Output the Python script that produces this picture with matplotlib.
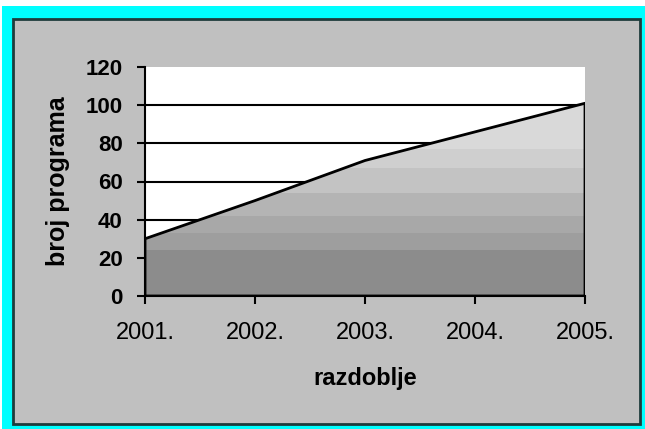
import numpy as np
import matplotlib
matplotlib.use("Agg")
import matplotlib.pyplot as plt
from matplotlib.patches import Rectangle
from matplotlib.colors import ListedColormap, BoundaryNorm

# data
years = ["2001.", "2002.", "2003.", "2004.", "2005."]
programs = [30, 50, 71, 86, 101]
yticks = [0, 20, 40, 60, 80, 100, 120]

# banded gray fill (light at top, dark at bottom)
band_edges = [0, 24, 33, 42, 54, 67, 77, 120]
band_grays = ["#8c8c8c", "#9e9e9e", "#a8a8a8", "#b4b4b4", "#c3c3c3", "#cfcfcf", "#d9d9d9"]

plt.rcParams["font.family"] = ["Liberation Sans", "DejaVu Sans"]

W, H = 645, 429
fig = plt.figure(figsize=(W / 100, H / 100), dpi=100, facecolor="white")

# outer cyan frame and gray panel with dark border (behind the axes)
fig.patches.append(Rectangle((2 / W, 0), 1 - 2 / W, (H - 6) / H, transform=fig.transFigure,
                             facecolor="#00ffff", edgecolor="none", zorder=-10))
fig.patches.append(Rectangle((13 / W, 5 / H), 627 / W, 405 / H, transform=fig.transFigure,
                             facecolor="#c0c0c0", edgecolor="#1e3c3c", linewidth=2, zorder=-9))

ax = fig.add_axes([145 / W, 1 - 296 / H, 440 / W, 229 / H])
ax.set_facecolor("white")
x = np.arange(len(years))

for v in yticks[1:-1]:
    ax.axhline(v, color="black", linewidth=1.5, zorder=1)

area = ax.fill_between(x, programs, 0, facecolor="none", edgecolor="black",
                       linewidth=2, zorder=3)
grad = np.linspace(0, 120, 1200).reshape(-1, 1)
im = ax.imshow(grad, extent=[x[0], x[-1], 0, 120], origin="lower", aspect="auto",
               cmap=ListedColormap(band_grays), norm=BoundaryNorm(band_edges, len(band_grays)),
               zorder=2, interpolation="nearest")
im.set_clip_path(area.get_paths()[0], transform=ax.transData)

ax.set_xlim(x[0], x[-1])
ax.set_ylim(0, 120)
ax.set_xticks(x)
ax.set_xticklabels(years, fontsize=17)
ax.set_yticks(yticks)
ax.set_yticklabels([str(v) for v in yticks], fontsize=16, fontweight="bold")
ax.tick_params(axis="both", direction="out", length=6, width=1.5, color="black")
ax.tick_params(axis="y", pad=10)
ax.tick_params(axis="x", pad=13)

for s in ["top", "right"]:
    ax.spines[s].set_visible(False)
for s in ["left", "bottom"]:
    ax.spines[s].set_linewidth(1.5)
    ax.spines[s].set_zorder(4)

ax.set_ylabel("broj programa", fontsize=18, fontweight="bold")
ax.yaxis.set_label_coords(-0.17, 0.5)
ax.set_xlabel("razdoblje", fontsize=17, fontweight="bold")
ax.xaxis.set_label_coords(0.5, -0.31)

fig.savefig("out.png", dpi=100, facecolor=fig.get_facecolor())
